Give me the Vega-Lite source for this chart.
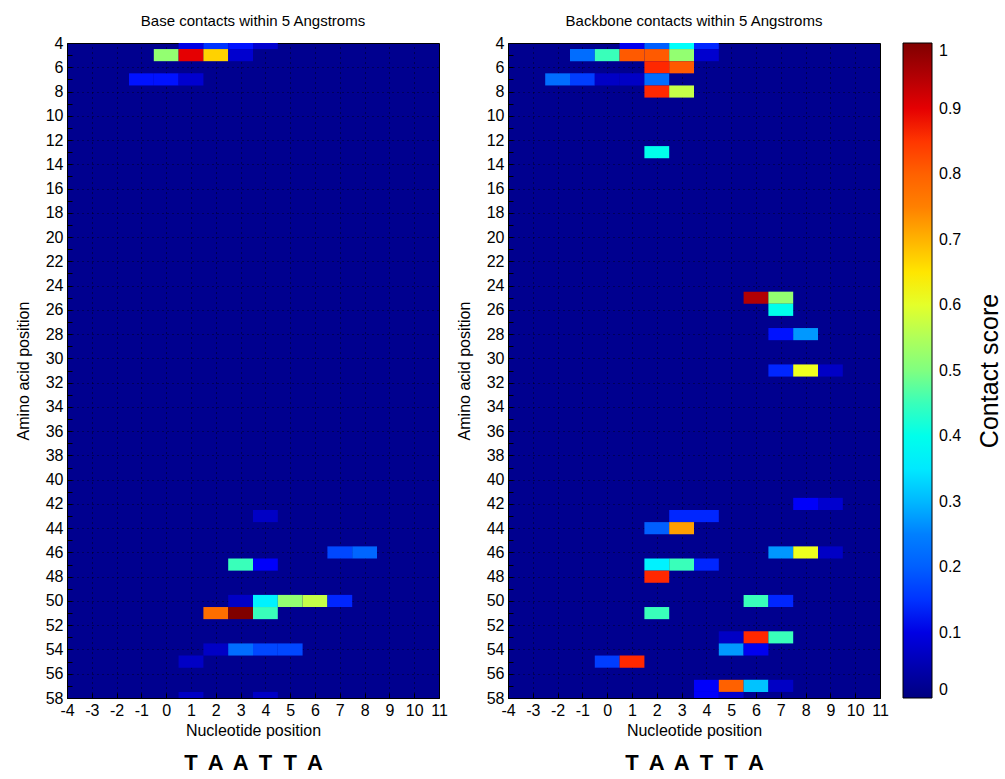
{
  "$schema": "https://vega.github.io/schema/vega-lite/v6.json",
  "background": "white",
  "padding": {"left": 14, "top": 13, "right": 0, "bottom": 0},
  "config": {
    "font": "Liberation Sans",
    "view": {"fill": "#00008F", "stroke": "black", "strokeWidth": 1},
    "axis": {
      "zindex": 1,
      "labelFont": "Liberation Sans",
      "labelFontSize": 16,
      "labelColor": "black",
      "titleFont": "Liberation Sans",
      "titleFontSize": 16,
      "titleFontWeight": "normal",
      "titleColor": "black",
      "domain": false,
      "tickColor": "black",
      "tickSize": -5,
      "labelPadding": 9,
      "labelOverlap": false,
      "labelFlush": false,
      "gridColor": "black",
      "gridDash": [1, 4],
      "gridWidth": 1,
      "gridOpacity": 0.85
    },
    "axisY": {"titlePadding": 14},
    "title": {"font": "Liberation Sans", "fontSize": 15, "fontWeight": "normal", "color": "black"},
    "legend": {
      "labelFont": "Liberation Sans",
      "labelFontSize": 16,
      "labelColor": "black",
      "titleFont": "Liberation Sans",
      "titleFontSize": 25,
      "titleFontWeight": "normal",
      "titleColor": "black"
    }
  },
  "datasets": {
    "contacts": [
      {"panel": "base", "aa": 4, "nt": 1, "score": 0.10},
      {"panel": "base", "aa": 4, "nt": 2, "score": 0.15},
      {"panel": "base", "aa": 4, "nt": 3, "score": 0.13},
      {"panel": "base", "aa": 4, "nt": 4, "score": 0.08},
      {"panel": "base", "aa": 5, "nt": 0, "score": 0.52},
      {"panel": "base", "aa": 5, "nt": 1, "score": 0.90},
      {"panel": "base", "aa": 5, "nt": 2, "score": 0.67},
      {"panel": "base", "aa": 5, "nt": 3, "score": 0.08},
      {"panel": "base", "aa": 7, "nt": -1, "score": 0.13},
      {"panel": "base", "aa": 7, "nt": 0, "score": 0.13},
      {"panel": "base", "aa": 7, "nt": 1, "score": 0.08},
      {"panel": "base", "aa": 43, "nt": 4, "score": 0.07},
      {"panel": "base", "aa": 46, "nt": 7, "score": 0.17},
      {"panel": "base", "aa": 46, "nt": 8, "score": 0.21},
      {"panel": "base", "aa": 47, "nt": 3, "score": 0.45},
      {"panel": "base", "aa": 47, "nt": 4, "score": 0.12},
      {"panel": "base", "aa": 50, "nt": 3, "score": 0.07},
      {"panel": "base", "aa": 50, "nt": 4, "score": 0.36},
      {"panel": "base", "aa": 50, "nt": 5, "score": 0.52},
      {"panel": "base", "aa": 50, "nt": 6, "score": 0.57},
      {"panel": "base", "aa": 50, "nt": 7, "score": 0.14},
      {"panel": "base", "aa": 51, "nt": 2, "score": 0.78},
      {"panel": "base", "aa": 51, "nt": 3, "score": 1.0},
      {"panel": "base", "aa": 51, "nt": 4, "score": 0.45},
      {"panel": "base", "aa": 54, "nt": 2, "score": 0.07},
      {"panel": "base", "aa": 54, "nt": 3, "score": 0.22},
      {"panel": "base", "aa": 54, "nt": 4, "score": 0.17},
      {"panel": "base", "aa": 54, "nt": 5, "score": 0.17},
      {"panel": "base", "aa": 55, "nt": 1, "score": 0.07},
      {"panel": "base", "aa": 58, "nt": 1, "score": 0.07},
      {"panel": "base", "aa": 58, "nt": 4, "score": 0.07},
      {"panel": "backbone", "aa": 4, "nt": 1, "score": 0.11},
      {"panel": "backbone", "aa": 4, "nt": 2, "score": 0.20},
      {"panel": "backbone", "aa": 4, "nt": 3, "score": 0.38},
      {"panel": "backbone", "aa": 4, "nt": 4, "score": 0.14},
      {"panel": "backbone", "aa": 5, "nt": -1, "score": 0.22},
      {"panel": "backbone", "aa": 5, "nt": 0, "score": 0.45},
      {"panel": "backbone", "aa": 5, "nt": 1, "score": 0.81},
      {"panel": "backbone", "aa": 5, "nt": 2, "score": 0.81},
      {"panel": "backbone", "aa": 5, "nt": 3, "score": 0.52},
      {"panel": "backbone", "aa": 5, "nt": 4, "score": 0.08},
      {"panel": "backbone", "aa": 6, "nt": 2, "score": 0.86},
      {"panel": "backbone", "aa": 6, "nt": 3, "score": 0.81},
      {"panel": "backbone", "aa": 7, "nt": -2, "score": 0.22},
      {"panel": "backbone", "aa": 7, "nt": -1, "score": 0.16},
      {"panel": "backbone", "aa": 7, "nt": 0, "score": 0.07},
      {"panel": "backbone", "aa": 7, "nt": 1, "score": 0.07},
      {"panel": "backbone", "aa": 7, "nt": 2, "score": 0.22},
      {"panel": "backbone", "aa": 8, "nt": 2, "score": 0.86},
      {"panel": "backbone", "aa": 8, "nt": 3, "score": 0.57},
      {"panel": "backbone", "aa": 13, "nt": 2, "score": 0.40},
      {"panel": "backbone", "aa": 25, "nt": 6, "score": 0.95},
      {"panel": "backbone", "aa": 25, "nt": 7, "score": 0.52},
      {"panel": "backbone", "aa": 26, "nt": 7, "score": 0.40},
      {"panel": "backbone", "aa": 28, "nt": 7, "score": 0.13},
      {"panel": "backbone", "aa": 28, "nt": 8, "score": 0.27},
      {"panel": "backbone", "aa": 31, "nt": 7, "score": 0.14},
      {"panel": "backbone", "aa": 31, "nt": 8, "score": 0.61},
      {"panel": "backbone", "aa": 31, "nt": 9, "score": 0.07},
      {"panel": "backbone", "aa": 42, "nt": 8, "score": 0.12},
      {"panel": "backbone", "aa": 42, "nt": 9, "score": 0.08},
      {"panel": "backbone", "aa": 43, "nt": 3, "score": 0.14},
      {"panel": "backbone", "aa": 43, "nt": 4, "score": 0.14},
      {"panel": "backbone", "aa": 44, "nt": 2, "score": 0.20},
      {"panel": "backbone", "aa": 44, "nt": 3, "score": 0.72},
      {"panel": "backbone", "aa": 46, "nt": 7, "score": 0.27},
      {"panel": "backbone", "aa": 46, "nt": 8, "score": 0.61},
      {"panel": "backbone", "aa": 46, "nt": 9, "score": 0.07},
      {"panel": "backbone", "aa": 47, "nt": 2, "score": 0.36},
      {"panel": "backbone", "aa": 47, "nt": 3, "score": 0.45},
      {"panel": "backbone", "aa": 47, "nt": 4, "score": 0.14},
      {"panel": "backbone", "aa": 48, "nt": 2, "score": 0.86},
      {"panel": "backbone", "aa": 50, "nt": 6, "score": 0.45},
      {"panel": "backbone", "aa": 50, "nt": 7, "score": 0.14},
      {"panel": "backbone", "aa": 51, "nt": 2, "score": 0.45},
      {"panel": "backbone", "aa": 53, "nt": 5, "score": 0.07},
      {"panel": "backbone", "aa": 53, "nt": 6, "score": 0.86},
      {"panel": "backbone", "aa": 53, "nt": 7, "score": 0.45},
      {"panel": "backbone", "aa": 54, "nt": 5, "score": 0.27},
      {"panel": "backbone", "aa": 54, "nt": 6, "score": 0.11},
      {"panel": "backbone", "aa": 55, "nt": 0, "score": 0.16},
      {"panel": "backbone", "aa": 55, "nt": 1, "score": 0.86},
      {"panel": "backbone", "aa": 57, "nt": 4, "score": 0.12},
      {"panel": "backbone", "aa": 57, "nt": 5, "score": 0.80},
      {"panel": "backbone", "aa": 57, "nt": 6, "score": 0.31},
      {"panel": "backbone", "aa": 57, "nt": 7, "score": 0.07},
      {"panel": "backbone", "aa": 58, "nt": 4, "score": 0.12},
      {"panel": "backbone", "aa": 58, "nt": 5, "score": 0.08}
    ],
    "seq": [
      {"nt": 1, "base": "T"},
      {"nt": 2, "base": "A"},
      {"nt": 3, "base": "A"},
      {"nt": 4, "base": "T"},
      {"nt": 5, "base": "T"},
      {"nt": 6, "base": "A"}
    ]
  },
  "hconcat": [
    {
      "spacing": 12,
      "vconcat": [
        {
          "width": 372,
          "height": 655,
          "title": {"text": "Base contacts within 5 Angstroms", "offset": 6},
          "data": {"name": "contacts"},
          "transform": [
            {"filter": "datum.panel === 'base'"},
            {"calculate": "datum.nt - 0.5", "as": "x0"},
            {"calculate": "datum.nt + 0.5", "as": "x1"},
            {"calculate": "datum.aa - 0.5", "as": "y0"},
            {"calculate": "datum.aa + 0.5", "as": "y1"}
          ],
          "mark": {"type": "rect", "clip": true},
          "encoding": {
            "x": {"field": "x0", "type": "quantitative",
              "scale": {"domain": [-4, 11], "nice": false, "zero": false},
              "axis": {"title": "Nucleotide position", "values": [-4,-3,-2,-1,0,1,2,3,4,5,6,7,8,9,10,11], "labelExpr": "'' + datum.value"}},
            "x2": {"field": "x1"},
            "y": {"field": "y0", "type": "quantitative",
              "scale": {"domain": [4, 58], "reverse": true, "nice": false, "zero": false},
              "axis": {"title": "Amino acid position",
                "values": [4,5,6,7,8,9,10,11,12,13,14,15,16,17,18,19,20,21,22,23,24,25,26,27,28,29,30,31,32,33,34,35,36,37,38,39,40,41,42,43,44,45,46,47,48,49,50,51,52,53,54,55,56,57,58],
                "labelExpr": "datum.value % 2 === 0 ? '' + datum.value : ''",
                "gridOpacity": {"condition": {"test": "datum.value % 2 === 0", "value": 0.85}, "value": 0}}},
            "y2": {"field": "y1"},
            "color": {"field": "score", "type": "quantitative",
              "scale": {"domain": [0, 1], "range": ["#000080", "#0000FF", "#0080FF", "#00FFFF", "#80FF80", "#FFFF00", "#FF8000", "#FF0000", "#800000"]},
              "legend": {"title": "Contact score", "titleOrient": "right", "titleAnchor": "middle", "direction": "vertical",
                "gradientLength": 655, "gradientThickness": 29, "gradientStrokeColor": "black", "gradientStrokeWidth": 1,
                "values": [0, 0.1, 0.2, 0.3, 0.4, 0.5, 0.6, 0.7, 0.8, 0.9, 1], "format": ".1~f", "labelOverlap": false,
                "offset": 14, "labelOffset": 7, "titlePadding": 17,
                "encoding": {"title": {"angle": {"value": -90}, "baseline": {"value": "top"}}}}}
          }
        },
        {
          "width": 372,
          "height": 24,
          "view": {"fill": null, "stroke": null},
          "data": {"name": "seq"},
          "mark": {"type": "text", "fontSize": 22, "fontWeight": "bold", "font": "Liberation Sans", "color": "black"},
          "encoding": {
            "x": {"field": "nt", "type": "quantitative", "scale": {"domain": [-4, 11], "nice": false, "zero": false}, "axis": null},
            "text": {"field": "base"}
          }
        }
      ]
    },
    {
      "spacing": 12,
      "vconcat": [
        {
          "width": 372,
          "height": 655,
          "title": {"text": "Backbone contacts within 5 Angstroms", "offset": 6},
          "data": {"name": "contacts"},
          "transform": [
            {"filter": "datum.panel === 'backbone'"},
            {"calculate": "datum.nt - 0.5", "as": "x0"},
            {"calculate": "datum.nt + 0.5", "as": "x1"},
            {"calculate": "datum.aa - 0.5", "as": "y0"},
            {"calculate": "datum.aa + 0.5", "as": "y1"}
          ],
          "mark": {"type": "rect", "clip": true},
          "encoding": {
            "x": {"field": "x0", "type": "quantitative",
              "scale": {"domain": [-4, 11], "nice": false, "zero": false},
              "axis": {"title": "Nucleotide position", "values": [-4,-3,-2,-1,0,1,2,3,4,5,6,7,8,9,10,11], "labelExpr": "'' + datum.value"}},
            "x2": {"field": "x1"},
            "y": {"field": "y0", "type": "quantitative",
              "scale": {"domain": [4, 58], "reverse": true, "nice": false, "zero": false},
              "axis": {"title": "Amino acid position",
                "values": [4,5,6,7,8,9,10,11,12,13,14,15,16,17,18,19,20,21,22,23,24,25,26,27,28,29,30,31,32,33,34,35,36,37,38,39,40,41,42,43,44,45,46,47,48,49,50,51,52,53,54,55,56,57,58],
                "labelExpr": "datum.value % 2 === 0 ? '' + datum.value : ''",
                "gridOpacity": {"condition": {"test": "datum.value % 2 === 0", "value": 0.85}, "value": 0}}},
            "y2": {"field": "y1"},
            "color": {"field": "score", "type": "quantitative"}
          }
        },
        {
          "width": 372,
          "height": 24,
          "view": {"fill": null, "stroke": null},
          "data": {"name": "seq"},
          "mark": {"type": "text", "fontSize": 22, "fontWeight": "bold", "font": "Liberation Sans", "color": "black"},
          "encoding": {
            "x": {"field": "nt", "type": "quantitative", "scale": {"domain": [-4, 11], "nice": false, "zero": false}, "axis": null},
            "text": {"field": "base"}
          }
        }
      ]
    }
  ],
  "spacing": 7,
  "resolve": {"scale": {"color": "shared"}}
}
